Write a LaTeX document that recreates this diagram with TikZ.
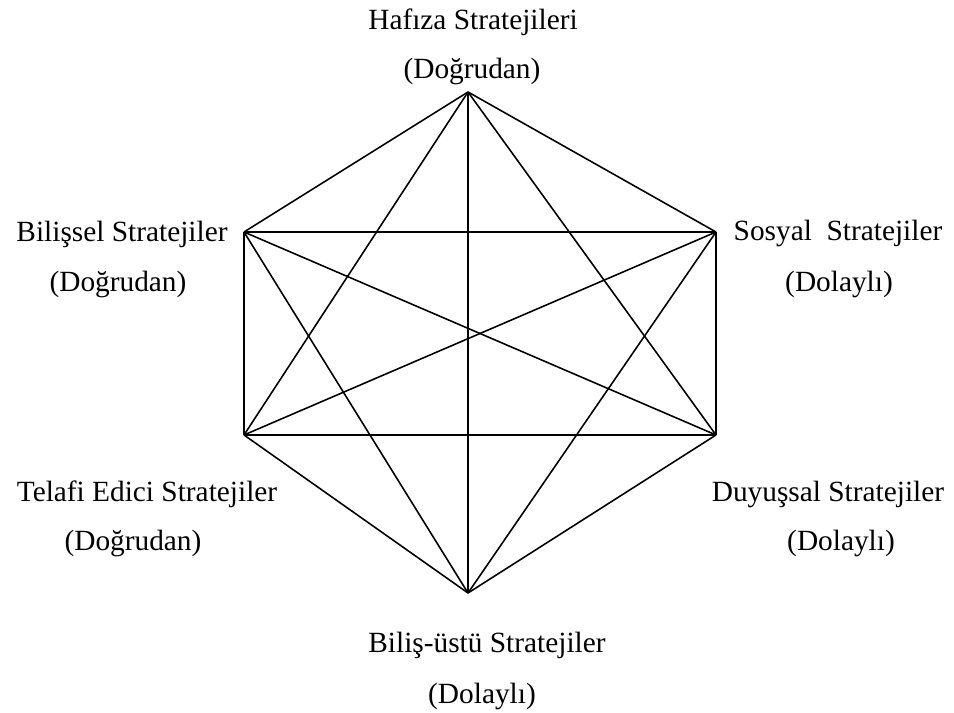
\documentclass[tikz,border=0pt]{standalone}
\usepackage{fontspec}
\setmainfont{Liberation Serif}
\tikzset{
  kenar/.style={line width=0.9pt},
  etiket/.style={anchor=base, inner sep=0pt, font=\fontsize{16.7}{19}\selectfont}
}
\begin{document}
\begin{tikzpicture}[x=0.02cm,y=-0.02cm]
    \useasboundingbox (0,0) rectangle (954,713);

    % Köşeler
    \coordinate (haf) at (468,92);
    \coordinate (bil) at (244,232);
    \coordinate (sos) at (716,232);
    \coordinate (tel) at (244,435);
    \coordinate (duy) at (716,435);
    \coordinate (ust) at (468,593);

    % Kenarlar
    \foreach \a/\b in {haf/bil,haf/sos,haf/tel,haf/duy,haf/ust,
                       bil/sos,bil/tel,bil/duy,bil/ust,
                       sos/tel,sos/duy,sos/ust,
                       tel/duy,tel/ust,duy/ust}
        \draw[kenar] (\a) -- (\b);

    % Etiketler
    \node[etiket] (hafA) at (473,30) {Hafıza Stratejileri};
    \node[etiket] (hafB) at (472,79) {(Doğrudan)};
    \node[etiket] (bilA) at (122,241) {Bilişsel Stratejiler};
    \node[etiket] (bilB) at (118,291) {(Doğrudan)};
    \node[etiket] (sosA) at (838,240) {Sosyal\ \ Stratejiler};
    \node[etiket] (sosB) at (839,291) {(Dolaylı)};
    \node[etiket] (telA) at (147,501) {Telafi Edici Stratejiler};
    \node[etiket] (telB) at (133,550) {(Doğrudan)};
    \node[etiket] (duyA) at (828,501) {Duyuşsal Stratejiler};
    \node[etiket] (duyB) at (841,550) {(Dolaylı)};
    \node[etiket] (ustA) at (487,652) {Biliş-üstü Stratejiler};
    \node[etiket] (ustB) at (482,703) {(Dolaylı)};

\end{tikzpicture}
\end{document}
